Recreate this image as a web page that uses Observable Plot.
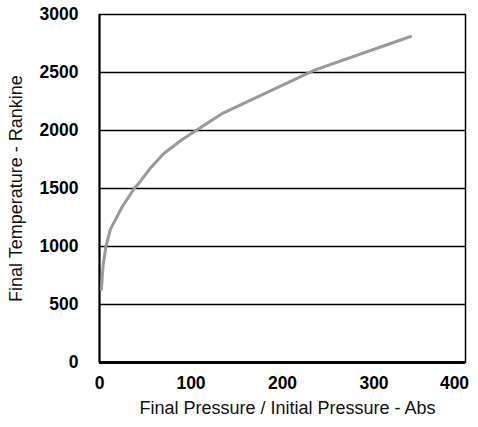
<!DOCTYPE html>
<html>
<head>
<meta charset="utf-8">
<script src="https://cdn.jsdelivr.net/npm/d3@7"></script>
<script src="https://cdn.jsdelivr.net/npm/@observablehq/plot@0.6"></script>
<style>
  body { margin: 0; background: #fff; }
</style>
</head>
<body>
<div id="chart"></div>
<script>
// Compression curve: final temperature (°R) vs. absolute pressure ratio
const pressureRatio = [2, 4, 7, 12, 25, 38, 45, 55, 70, 90, 135, 235, 340];
const temperature   = [630, 840, 1000, 1150, 1345, 1500, 1565, 1670, 1800, 1920, 2150, 2520, 2810];

const xTicks = [0, 100, 200, 300];
const xLastTick = [400];
const yTicks = [0, 500, 1000, 1500, 2000, 2500, 3000];
const gridLevels = [500, 1000, 1500, 2000, 2500];

const xTitle = "Final Pressure / Initial Pressure - Abs";
const yTitle = "Final Temperature - Rankine";

const points = pressureRatio.map((p, i) => ({ p, t: temperature[i] }));
const plain = (d) => String(d);
const tickStyle = { tickSize: 0, fontSize: 17.5, fontWeight: "bold", label: null, tickFormat: plain };

const chart = Plot.plot({
  width: 478,
  height: 427,
  marginLeft: 99,
  marginRight: 13,
  marginTop: 14,
  marginBottom: 65,
  style: { fontFamily: "'Liberation Sans', Arial, sans-serif", background: "#fff", color: "#000" },
  x: { domain: [0, 400] },
  y: { domain: [0, 3000] },
  marks: [
    Plot.ruleY(gridLevels, { stroke: "#000", strokeWidth: 1.5 }),
    Plot.frame({ stroke: "#000", strokeWidth: 1.5 }),
    Plot.ruleX([0], { stroke: "#000", strokeWidth: 2 }),
    Plot.ruleY([0], { stroke: "#000", strokeWidth: 3 }),
    Plot.line(points, { x: "p", y: "t", stroke: "#999999", strokeWidth: 3, strokeLinejoin: "round" }),
    Plot.axisX({ ...tickStyle, ticks: xTicks, tickPadding: 14 }),
    // last label is pulled inward so it stays within the page edge
    Plot.axisX({ ...tickStyle, ticks: xLastTick, tickPadding: 14, dx: -11 }),
    Plot.axisY({ ...tickStyle, ticks: yTicks, tickPadding: 21 }),
    Plot.text([xTitle], { frameAnchor: "bottom", dx: 5, dy: 51, fontSize: 18, fill: "#111" }),
    Plot.text([yTitle], { frameAnchor: "left", textAnchor: "middle", dx: -83, rotate: -90, fontSize: 18, fill: "#111" })
  ]
});

document.getElementById("chart").appendChild(chart);
</script>
</body>
</html>
